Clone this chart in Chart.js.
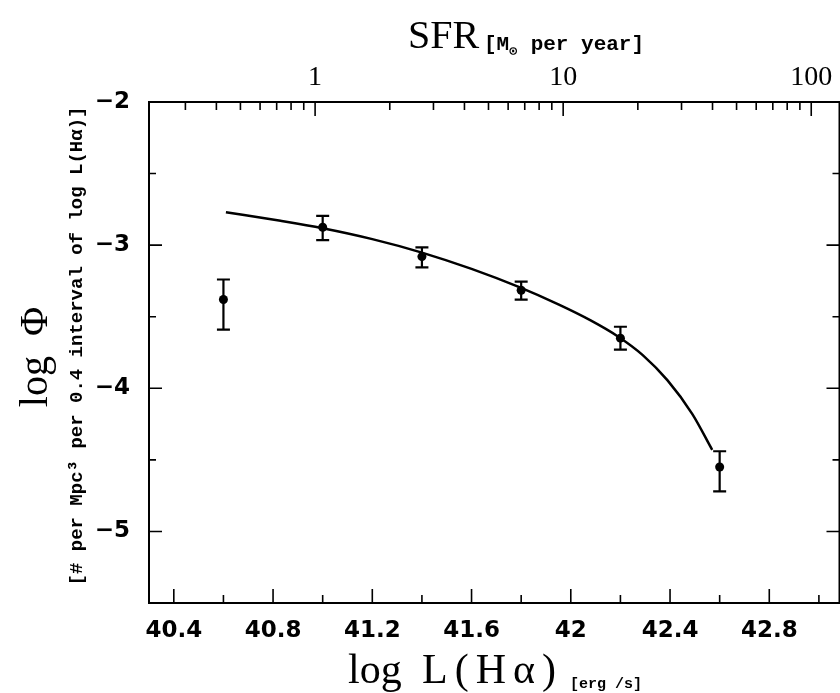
<!DOCTYPE html>
<html>
<head>
<meta charset="utf-8">
<script src="https://cdn.jsdelivr.net/npm/chart.js"></script>
<style>
  html, body { margin: 0; padding: 0; background: #fff; overflow: hidden; }
  #wrap { position: relative; width: 844px; height: 693px; }
</style>
</head>
<body>
<div id="wrap"><canvas id="lf"></canvas></div>
<script>
// binned H-alpha luminosity function (0.4 dex bins)
const binLogL = [40.6, 41.0, 41.4, 41.8, 42.2, 42.6];
const binLogPhi = [-3.38, -2.875, -3.08, -3.315, -3.65, -4.55];
const errUp = [0.14, 0.08, 0.065, 0.06, 0.08, 0.11];
const errDown = [0.21, 0.09, 0.075, 0.065, 0.08, 0.17];

// fitted curve
const fitLogL = [40.61, 40.83, 41.0, 41.2, 41.4, 41.6, 41.79, 41.95, 42.08, 42.19, 42.29, 42.39, 42.49, 42.57];
const fitLogPhi = [-2.77, -2.83, -2.882, -2.958, -3.052, -3.166, -3.292, -3.414, -3.526, -3.638, -3.768, -3.945, -4.18, -4.43];

const xTicks = [40.4, 40.8, 41.2, 41.6, 42, 42.4, 42.8];
const yTicks = [-2, -3, -4, -5];
const sfrTicks = [1, 10, 100];

const X_MIN = 40.3, X_MAX = 43.083;
const Y_MIN = -5.5, Y_MAX = -2;
const SFR_MIN = 0.214, SFR_MAX = 130;

const tickFont = { family: '"DejaVu Sans", sans-serif', size: 23, weight: 'bold' };
const serif = '"Liberation Serif", "DejaVu Serif", serif';
const mono = '"Liberation Mono", "DejaVu Sans Mono", monospace';

const framePlugin = {
  id: 'frame',
  afterDatasetsDraw(chart) {
    const { ctx, chartArea: a, scales } = chart;
    const x = scales.x, y = scales.y, top = scales.x2;
    ctx.save();
    ctx.strokeStyle = '#000';
    ctx.lineWidth = 2;
    ctx.strokeRect(a.left, a.top, a.right - a.left, a.bottom - a.top);

    ctx.lineWidth = 1.6;
    ctx.beginPath();
    // bottom: major every 0.4, minor in between
    for (let i = 0; ; i++) {
      const v = 40.4 + i * 0.2;
      if (v > X_MAX) break;
      const px = x.getPixelForValue(v);
      const len = i % 2 === 0 ? 14 : 8;
      ctx.moveTo(px, a.bottom); ctx.lineTo(px, a.bottom - len);
    }
    // left and right
    for (let i = 0; i < 7; i++) {
      const v = -2 - i * 0.5;
      const py = y.getPixelForValue(v);
      const len = i % 2 === 0 ? 13 : 7;
      ctx.moveTo(a.left, py); ctx.lineTo(a.left + len, py);
      ctx.moveTo(a.right, py); ctx.lineTo(a.right - len, py);
    }
    // top: SFR log ticks
    for (let d = 0.1; d <= 1000; d *= 10) {
      for (let m = 1; m <= 9; m++) {
        const v = d * m;
        if (v < SFR_MIN || v > SFR_MAX) continue;
        const px = top.getPixelForValue(v);
        const len = m === 1 ? 14 : 8;
        ctx.moveTo(px, a.top); ctx.lineTo(px, a.top + len);
      }
    }
    ctx.stroke();

    // error bars
    ctx.lineWidth = 2.2;
    ctx.beginPath();
    binLogL.forEach((lx, i) => {
      const px = x.getPixelForValue(lx);
      const hi = y.getPixelForValue(binLogPhi[i] + errUp[i]);
      const lo = y.getPixelForValue(binLogPhi[i] - errDown[i]);
      ctx.moveTo(px, hi); ctx.lineTo(px, lo);
      ctx.moveTo(px - 6.5, hi); ctx.lineTo(px + 6.5, hi);
      ctx.moveTo(px - 6.5, lo); ctx.lineTo(px + 6.5, lo);
    });
    ctx.stroke();
    ctx.restore();
  },
  afterDraw(chart) {
    const { ctx } = chart;
    ctx.save();
    ctx.fillStyle = '#000';
    ctx.textBaseline = 'alphabetic';
    ctx.textAlign = 'left';

    // top axis title
    ctx.font = '40px ' + serif;
    ctx.fillText('SFR', 408, 48);
    ctx.font = 'bold 21px ' + mono;
    ctx.fillText('[M', 484, 50);
    const w = ctx.measureText('[M').width;
    ctx.font = 'bold 13px ' + mono;
    ctx.fillText('\u2299', 484 + w, 55);
    const w2 = ctx.measureText('\u2299').width;
    ctx.font = 'bold 21px ' + mono;
    ctx.fillText(' per year]', 484 + w + w2 + 1, 50);

    // bottom axis title
    ctx.font = '42px ' + serif;
    ctx.fillText('log', 348, 683);
    ctx.letterSpacing = '7px';
    ctx.fillText('L(H\u03b1)', 422, 683);
    ctx.letterSpacing = '0px';
    ctx.font = 'bold 15px ' + mono;
    ctx.fillText('[erg /s]', 570, 688);

    // left axis titles
    ctx.save();
    ctx.translate(47, 357);
    ctx.rotate(-Math.PI / 2);
    ctx.textAlign = 'center';
    ctx.font = '40px ' + serif;
    ctx.fillText('log  \u03a6', 0, 0);
    ctx.restore();

    ctx.save();
    ctx.translate(82, 346);
    ctx.rotate(-Math.PI / 2);
    ctx.textAlign = 'center';
    ctx.font = 'bold 19px ' + mono;
    ctx.fillText('[# per Mpc\u00b3 per 0.4 interval of log L(H\u03b1)]', 0, 0);
    ctx.restore();

    ctx.restore();
  }
};

new Chart(document.getElementById('lf'), {
  type: 'scatter',
  data: {
    datasets: [
      {
        type: 'line',
        data: fitLogL.map((v, i) => ({ x: v, y: fitLogPhi[i] })),
        borderColor: '#000',
        borderWidth: 2.5,
        pointRadius: 0,
        cubicInterpolationMode: 'monotone',
        fill: false
      },
      {
        data: binLogL.map((v, i) => ({ x: v, y: binLogPhi[i] })),
        pointStyle: 'circle',
        pointRadius: 4.5,
        pointBackgroundColor: '#000',
        pointBorderColor: '#000',
        pointBorderWidth: 0
      }
    ]
  },
  options: {
    responsive: true,
    maintainAspectRatio: false,
    animation: false,
    layout: { padding: { right: 2 } },
    plugins: { legend: { display: false }, tooltip: { enabled: false } },
    scales: {
      x: {
        type: 'linear',
        position: 'bottom',
        min: X_MIN,
        max: X_MAX,
        grid: { display: false, drawTicks: false },
        border: { display: false },
        afterBuildTicks: s => { s.ticks = xTicks.map(v => ({ value: v })); },
        afterFit: s => { s.height = 90; },
        ticks: { font: tickFont, color: '#000', padding: 14, maxRotation: 0, callback: v => String(+v.toFixed(1)) }
      },
      x2: {
        type: 'logarithmic',
        position: 'top',
        min: SFR_MIN,
        max: SFR_MAX,
        grid: { display: false, drawTicks: false },
        border: { display: false },
        afterBuildTicks: s => { s.ticks = sfrTicks.map(v => ({ value: v })); },
        afterFit: s => { s.height = 102; },
        ticks: { font: { family: serif, size: 28 }, color: '#000', padding: 8, maxRotation: 0, callback: v => String(v) }
      },
      y: {
        type: 'linear',
        min: Y_MIN,
        max: Y_MAX,
        grid: { display: false, drawTicks: false },
        border: { display: false },
        afterBuildTicks: s => { s.ticks = yTicks.map(v => ({ value: v })); },
        afterFit: s => { s.width = 149; },
        ticks: { font: tickFont, color: '#000', padding: 19, callback: v => '\u2212' + Math.abs(v) }
      }
    }
  },
  plugins: [framePlugin]
});
</script>
</body>
</html>
